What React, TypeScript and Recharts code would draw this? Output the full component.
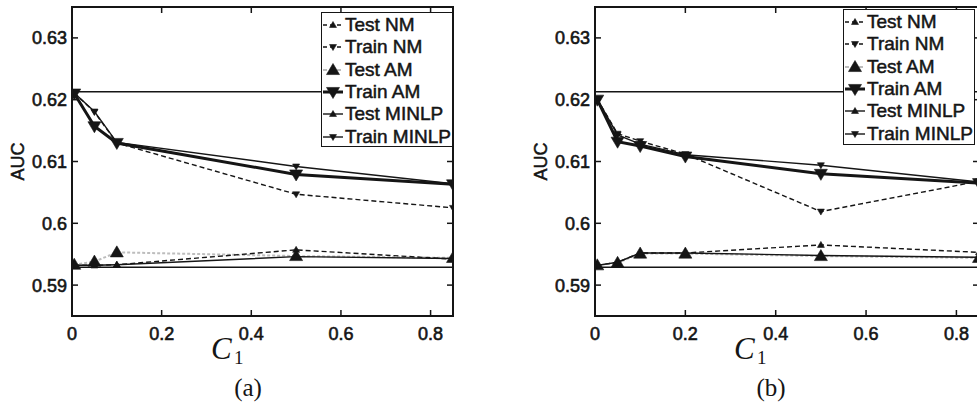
import React from 'react'
import { LineChart, Line, XAxis, YAxis, ReferenceLine, ReferenceArea, Legend } from 'recharts'

const INK = '#151515'
const SANS = '"Liberation Sans", Arial, Helvetica, sans-serif'
const SERIF = '"Liberation Serif", "DejaVu Serif", serif'

// axes
const X_TICKS = [0, 0.2, 0.4, 0.6, 0.8]
const Y_TICKS = [0.59, 0.6, 0.61, 0.62, 0.63]
const X_DOMAIN = [0, 0.85]
const Y_DOMAIN = [0.585, 0.635]
const BASE_HIGH = 0.6213
const BASE_LOW = 0.5929

const SERIES_KEYS = ['testNM', 'trainNM', 'testAM', 'trainAM', 'testMINLP', 'trainMINLP']
const SERIES_NAMES = ['Test NM', 'Train NM', 'Test AM', 'Train AM', 'Test MINLP', 'Train MINLP']

// panel (a)
const C1_A = [0.005, 0.05, 0.1, 0.5, 0.85]
const A_TEST_NM = [0.5932, 0.5932, 0.5933, 0.5957, 0.5942]
const A_TRAIN_NM = [0.6211, 0.618, 0.613, 0.6047, 0.6025]
const A_TEST_AM = [0.5933, 0.5938, 0.5953, 0.5947, 0.5944]
const A_TRAIN_AM = [0.621, 0.6157, 0.613, 0.6079, 0.6063]
const A_TEST_MINLP = [0.5932, 0.5932, 0.5933, 0.5946, 0.5943]
const A_TRAIN_MINLP = [0.6211, 0.6181, 0.6131, 0.6092, 0.6064]

// panel (b)
const C1_B = [0.005, 0.05, 0.1, 0.2, 0.5, 0.85]
const B_TEST_NM = [0.5932, 0.5937, 0.5952, 0.5952, 0.5965, 0.5953]
const B_TRAIN_NM = [0.6201, 0.6145, 0.6133, 0.6112, 0.6019, 0.6068]
const B_TEST_AM = [0.5932, 0.5936, 0.5951, 0.5951, 0.5947, 0.5944]
const B_TRAIN_AM = [0.62, 0.6132, 0.6125, 0.6108, 0.608, 0.6065]
const B_TEST_MINLP = [0.5932, 0.5937, 0.5952, 0.5952, 0.5948, 0.5945]
const B_TRAIN_MINLP = [0.6201, 0.6143, 0.6128, 0.6111, 0.6094, 0.6067]

type Look = { color: string; width: number; dash?: string; dir: 'up' | 'down'; r: number }

const LOOK: Record<string, Look> = {
    testNM: { color: INK, width: 1.4, dash: '5 3', dir: 'up', r: 3.5 },
    trainNM: { color: INK, width: 1.4, dash: '5 3', dir: 'down', r: 3.5 },
    testAM: { color: '#bdbdbd', width: 2, dash: '3 2', dir: 'up', r: 6.5 },
    trainAM: { color: INK, width: 3, dir: 'down', r: 6.5 },
    testMINLP: { color: INK, width: 1.4, dir: 'up', r: 3.5 },
    trainMINLP: { color: INK, width: 1.4, dir: 'down', r: 3.5 },
}

const buildRows = (xs: number[], cols: number[][]) =>
    xs.map((x, i) => {
        const row: any = { x }
        SERIES_KEYS.forEach((k, j) => { row[k] = cols[j][i] })
        return row
    })

const ROWS_A = buildRows(C1_A, [A_TEST_NM, A_TRAIN_NM, A_TEST_AM, A_TRAIN_AM, A_TEST_MINLP, A_TRAIN_MINLP])
const ROWS_B = buildRows(C1_B, [B_TEST_NM, B_TRAIN_NM, B_TEST_AM, B_TRAIN_AM, B_TEST_MINLP, B_TRAIN_MINLP])

function triPath(cx: number, cy: number, r: number, dir: 'up' | 'down') {
    const s = dir === 'up' ? 1 : -1
    return `M${cx},${cy - s * r} L${cx - r},${cy + s * r * 0.7} L${cx + r},${cy + s * r * 0.7} Z`
}

const markerFor = (key: string) => (p: any) => {
    const lk = LOOK[key]
    if (p.cx == null || p.cy == null) return <g key={`${key}-${p.index}`} />
    return <path key={`${key}-${p.index}`} d={triPath(p.cx, p.cy, lk.r, lk.dir)} fill={INK} stroke={INK} strokeWidth={0.6} />
}

const PLOT_TOP = 7
const PLOT_BOTTOM = 88
const PLOT_H = 404 - PLOT_TOP - PLOT_BOTTOM

const makeXTick = (ph: number) => (props: any) => {
    const { x, y, payload } = props
    return (
        <g>
            <line x1={x} y1={y} x2={x} y2={y - 6} stroke={INK} strokeWidth={1.5} />
            <line x1={x} y1={y - ph} x2={x} y2={y - ph + 6} stroke={INK} strokeWidth={1.5} />
            <text x={x} y={y + 24} textAnchor="middle" fontFamily={SANS} fontSize={18} fill={INK} stroke={INK} strokeWidth={0.6}>
                {String(payload.value)}
            </text>
        </g>
    )
}

const makeYTick = (pw: number) => (props: any) => {
    const { x, y, payload } = props
    return (
        <g>
            <line x1={x} y1={y} x2={x + 6} y2={y} stroke={INK} strokeWidth={1.5} />
            <line x1={x + pw} y1={y} x2={x + pw - 6} y2={y} stroke={INK} strokeWidth={1.5} />
            <text x={x - 5} y={y + 6.5} textAnchor="end" fontFamily={SANS} fontSize={18} fill={INK} stroke={INK} strokeWidth={0.6}>
                {String(payload.value)}
            </text>
        </g>
    )
}

function XCaption(props: any) {
    const { viewBox, tag } = props
    const x0 = viewBox.x
    const y0 = viewBox.y
    return (
        <g>
            <text x={x0 + 139} y={y0 + 43} fontFamily={SERIF} fontStyle="italic" fontSize={31} fill={INK}>C</text>
            <text x={x0 + 162} y={y0 + 48} fontFamily={SERIF} fontSize={19} fill={INK}>1</text>
            <text x={x0 + 176} y={y0 + 80} textAnchor="middle" fontFamily={SERIF} fontSize={25} fill={INK}>{tag}</text>
        </g>
    )
}

function YCaption(props: any) {
    const { viewBox } = props
    const cx = viewBox.x + viewBox.width - 54
    const cy = viewBox.y + viewBox.height / 2
    return (
        <text x={cx} y={cy} transform={`rotate(-90 ${cx} ${cy})`} textAnchor="middle" dominantBaseline="central"
            fontFamily={SANS} fontSize={18} fill={INK} stroke={INK} strokeWidth={0.5}>
            AUC
        </text>
    )
}

function LegendIcon({ k }: { k: string }) {
    const lk = LOOK[k]
    return (
        <svg width={22} height={22} style={{ display: 'block' }}>
            <line x1={1} y1={11} x2={21} y2={11} stroke={lk.color} strokeWidth={lk.width}
                strokeDasharray={lk.dash ? '4 3' : undefined} />
            <path d={triPath(11, 11, lk.r, lk.dir)} fill={INK} stroke={INK} strokeWidth={0.6} />
        </svg>
    )
}

function LegendBox() {
    return (
        <div style={{
            boxSizing: 'border-box', width: '100%', height: '100%', background: '#fff',
            border: `1.5px solid ${INK}`, paddingTop: 1, paddingLeft: 0,
        }}>
            {SERIES_KEYS.map((k, i) => (
                <div key={k} style={{ display: 'flex', alignItems: 'center', height: 22.3 }}>
                    <LegendIcon k={k} />
                    <span style={{
                        fontFamily: SANS, fontSize: 19, color: INK, marginLeft: 1,
                        WebkitTextStroke: '0.5px #151515', whiteSpace: 'nowrap', lineHeight: '22px',
                    }}>{SERIES_NAMES[i]}</span>
                </div>
            ))}
        </div>
    )
}

type PanelProps = {
    rows: any[]; left: number; width: number; axisW: number; plotW: number; tag: string
    legendLeft: number; legendTop: number; legendW: number; legendH: number
}

function Panel({ rows, left, width, axisW, plotW, tag, legendLeft, legendTop, legendW, legendH }: PanelProps) {
    const drawOrder = ['testAM', 'testNM', 'testMINLP', 'trainNM', 'trainMINLP', 'trainAM']
    return (
        <LineChart
            width={width}
            height={404}
            data={rows}
            margin={{ top: PLOT_TOP, bottom: 0, left: 0, right: width - axisW - plotW }}
            style={{ position: 'absolute', left, top: 0 }}
        >
            <XAxis dataKey="x" type="number" domain={X_DOMAIN} ticks={X_TICKS} interval={0} height={PLOT_BOTTOM}
                axisLine={false} tickLine={false} tickSize={0} tickMargin={0} allowDataOverflow
                tick={makeXTick(PLOT_H)} label={<XCaption tag={tag} />} />
            <YAxis type="number" domain={Y_DOMAIN} ticks={Y_TICKS} interval={0} width={axisW}
                axisLine={false} tickLine={false} tickSize={0} tickMargin={0} allowDataOverflow
                tick={makeYTick(plotW)} label={<YCaption />} />
            <ReferenceLine y={BASE_HIGH} stroke={INK} strokeWidth={1.5} />
            <ReferenceLine y={BASE_LOW} stroke={INK} strokeWidth={1.5} />
            {drawOrder.map(k => (
                <Line key={k} dataKey={k} name={SERIES_NAMES[SERIES_KEYS.indexOf(k)]} type="linear"
                    stroke={LOOK[k].color} strokeWidth={LOOK[k].width} strokeDasharray={LOOK[k].dash}
                    dot={markerFor(k)} activeDot={false} isAnimationActive={false} />
            ))}
            <ReferenceArea x1={X_DOMAIN[0]} x2={X_DOMAIN[1]} y1={Y_DOMAIN[0]} y2={Y_DOMAIN[1]}
                fill="none" fillOpacity={0} stroke={INK} strokeWidth={2} />
            <Legend layout="vertical" align="center" verticalAlign="middle"
                content={() => <LegendBox />}
                wrapperStyle={{ left: legendLeft, top: legendTop, width: legendW, height: legendH }} />
        </LineChart>
    )
}

export default function App() {
    return (
        <div style={{ position: 'absolute', left: 0, top: 0, width: 977, height: 404, overflow: 'hidden', background: '#fff' }}>
            <Panel rows={ROWS_A} left={0} width={490} axisW={72} plotW={381} tag="(a)"
                legendLeft={321} legendTop={12} legendW={132} legendH={135} />
            <Panel rows={ROWS_B} left={490} width={500} axisW={105} plotW={384} tag="(b)"
                legendLeft={353} legendTop={9} legendW={132} legendH={136} />
        </div>
    )
}
